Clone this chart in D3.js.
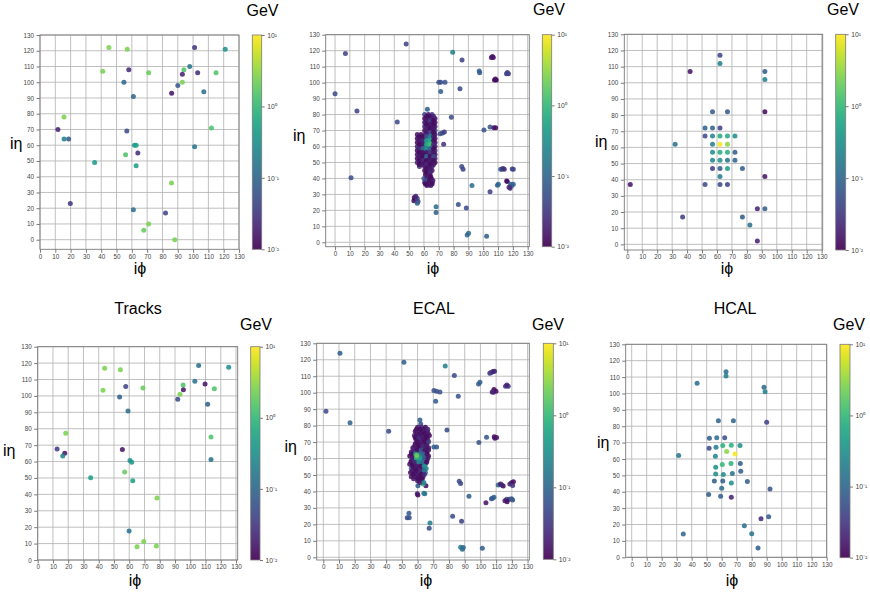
<!DOCTYPE html>
<html><head><meta charset="utf-8">
<script src="https://cdn.jsdelivr.net/npm/d3@7"></script>
<style>
body{margin:0;background:#fff;}
svg text{font-family:"Liberation Sans",Arial,sans-serif;}
</style></head>
<body><svg id="c" width="870" height="595"></svg>
<script>
// ---- DATA: [iphi, ieta, energy GeV] ----
const tracksTop = [
[45,122,2.5],[57,121,2.5],[101,122,0.03],[121,121,0.3],[41,107,2.5],[58,108,0.025],[71,106,2],[97.8,110,0.15],
[94,108,1.5],[93,105,0.02],[103,106,0.025],[115,106,1.5],[54.8,100,0.1],[93,100,2.5],[90,98,0.07],[86,93,0.015],
[61,91,0.1],[107,94,0.12],[15.7,78,2.5],[11.7,70,0.02],[56.7,69,0.05],[112,71,1.5],[15.7,64,0.2],[18.7,64,0.07],
[61.7,60,0.4],[62.8,60,0.5],[101,59,0.15],[55.9,54,1.5],[63.9,55,0.025],[35.7,49,0.4],[62.8,47,0.5],[85.9,36,2.5],
[19.8,23,0.03],[61,19,0.12],[82,17,0.04],[71,10,2.5],[67.8,6,2],[88,0,2.5]
];
const ecalTop = [
[48,124.2,0.04],[7,118.2,0.04],[0,93.1,0.05],[14.8,82.3,0.04],[42,75.4,0.05],[10.8,40.5,0.05],[79.4,119,0.2],[85.7,114.2,0.04],
[105.5,115.7,0.015],[106.8,115.7,0.013],[106.2,116.3,0.016],[97.3,107.2,0.08],[97.6,106.2,0.07],
[115.7,105.6,0.035],[117,105.6,0.03],[116.3,106.3,0.04],[107.6,101.7,0.012],[108.8,101.7,0.011],[108.2,102.2,0.013],
[70,100.2,0.06],[71.3,100.2,0.05],[74.2,100.2,0.06],[71.3,94.4,0.08],[84.3,96.2,0.05],[78.5,78.3,0.05],
[100.5,70.4,0.06],[104.6,72.2,0.07],[107.2,71.8,0.015],[108.4,71.8,0.013],[72.5,68.5,0.04],[73.8,69,0.035],[71,68,0.05],
[73.3,61.4,0.03],[85.5,47.4,0.05],[86.4,45.7,0.045],[92.4,35.5,0.12],
[111.8,45.7,0.08],[112.5,45.7,0.09],[114.2,45.7,0.03],[113.4,46.2,0.025],[120.3,45.7,0.05],[119.6,45.9,0.04],
[110.2,36.3,0.1],[109.6,35.8,0.09],[116.3,38,0.015],[115.8,38.4,0.013],[118.5,36.3,0.1],[120.3,36.3,0.09],[119.4,35.6,0.08],
[118.1,33.8,0.02],[117.4,34.4,0.025],[104.6,31.7,0.04],
[83.2,23.6,0.06],[88.6,21.5,0.05],[68.2,22.3,0.12],[68.2,18.6,0.08],[90.1,5.6,0.12],[89.2,4.6,0.1],[102.3,3.8,0.08],
[53.5,28,0.012],[54.5,27,0.015],[53.2,26,0.013],[55.5,27.5,0.05],[56,25.5,0.04],[55.5,24.5,0.08],[54.5,28.8,0.02],
[62.3,83.3,0.08],
[60.5,80,0.04],[63,80,0.015],[65.5,80,0.03],
[60.5,77.5,0.012],[63,77.5,0.02],[65.5,77.5,0.013],[67.5,77.5,0.015],
[60.5,75,0.015],[63,75,0.05],[65.5,75,0.012],[67.5,75,0.013],
[60.5,72.5,0.02],[63,72.5,0.012],[65.5,72.5,0.03],[67.5,72.5,0.015],
[60.5,70,0.013],[63,70,0.015],[65.5,70,0.012],[67.5,70,0.04],
[55.5,67.5,0.015],[58,67.5,0.013],[60.5,67.5,0.03],[63,67.5,0.02],[65.5,67.5,0.12],[67.5,67.5,0.015],
[55.5,65,0.012],[58,65,0.02],[60.5,65,0.015],[63,65,0.3],[65.5,65,0.25],[67.5,65,0.013],
[55.5,62.5,0.013],[58,62.5,0.015],[60.5,62.5,0.1],[63,62.5,1.5],[65.5,62.5,0.4],[67.5,62.5,0.012],
[55.5,60,0.02],[58,60,0.012],[60.5,60,0.2],[63,60,0.8],[65.5,60,0.06],[67.5,60,0.015],
[55.5,57.5,0.012],[58,57.5,0.013],[60.5,57.5,0.3],[63,57.5,0.04],[65.5,57.5,0.015],[67.5,57.5,0.02],
[55.5,55,0.015],[58,55,0.02],[60.5,55,0.012],[63,55,0.013],[65.5,55,0.08],[67.5,55,0.012],
[55.5,52.5,0.013],[58,52.5,0.015],[60.5,52.5,0.04],[63,52.5,0.012],[65.5,52.5,0.2],[67.5,52.5,0.015],
[55.5,50,0.02],[58,50,0.012],[60.5,50,0.013],[63,50,0.03],[65.5,50,0.012],[67.5,50,0.013],
[57,47.5,0.03],[60.5,47.5,0.015],[63,47.5,0.012],[65.5,47.5,0.02],
[60.5,45,0.012],[63,45,0.05],[65.5,45,0.015],[61,42.5,0.013],[64,42.5,0.015],
[60,40,0.06],[62.5,40,0.08],[65,40,0.013],[60.5,37.5,0.015],[63,37.5,0.012],[65.5,37.5,0.02],[62,35.5,0.013],[64.5,35.5,0.015],
[61.75,78.75,0.013],[64.25,78.75,0.012],[66.5,78.75,0.02],
[61.75,76.25,0.015],[64.25,76.25,0.03],[66.5,76.25,0.012],
[61.75,73.75,0.012],[64.25,73.75,0.015],[66.5,73.75,0.013],
[61.75,71.25,0.02],[64.25,71.25,0.012],[66.5,71.25,0.015],
[61.75,68.75,0.015],[64.25,68.75,0.04],[66.5,68.75,0.012],
[56.75,66.25,0.013],[59.25,66.25,0.012],[61.75,66.25,0.05],[64.25,66.25,0.2],[66.5,66.25,0.015],
[56.75,63.75,0.015],[59.25,63.75,0.02],[61.75,63.75,0.4],[64.25,63.75,0.6],[66.5,63.75,0.013],
[56.75,61.25,0.012],[59.25,61.25,0.015],[61.75,61.25,0.6],[64.25,61.25,1.2],[66.5,61.25,0.02],
[56.75,58.75,0.02],[59.25,58.75,0.1],[61.75,58.75,0.25],[64.25,58.75,0.08],[66.5,58.75,0.012],
[56.75,56.25,0.012],[59.25,56.25,0.013],[61.75,56.25,0.015],[64.25,56.25,0.03],[66.5,56.25,0.015],
[56.75,53.75,0.015],[59.25,53.75,0.012],[61.75,53.75,0.1],[64.25,53.75,0.012],[66.5,53.75,0.04],
[56.75,51.25,0.013],[59.25,51.25,0.02],[61.75,51.25,0.012],[64.25,51.25,0.015],[66.5,51.25,0.013],
[56.75,48.75,0.012],[59.25,48.75,0.015],[61.75,48.75,0.02],[64.25,48.75,0.012],[66.5,48.75,0.015],
[61.75,46.25,0.013],[64.25,46.25,0.015],[61.75,43.75,0.012],[64.25,43.75,0.02],[62,41.25,0.015],[64.5,41.25,0.012],
[61.25,38.75,0.04],[63.75,38.75,0.013],[66,38.75,0.015],[61,36.5,0.012],[63.5,36.5,0.015],[65.5,36.5,0.013]
];
const hcalTop = [
[62,117,0.04],[62,112,0.2],[42,107,0.015],[92,107,0.08],[92,102,0.2],[57,82,0.07],[67,82,0.07],[92,82,0.012],
[52,72,0.09],[57,72,0.09],[62,72,0.04],[52,67,0.05],[57,67,0.25],[62,67,0.7],[67,67,0.7],[72,67,0.3],
[32,62,0.15],[57,62,0.2],[62,62,9],[67,62,3],[57,57,0.3],[62,57,0.7],[67,57,0.8],[72,57,0.08],
[57,52,0.25],[62,52,0.35],[67,52,0.15],[72,52,0.09],[57,47,0.035],[62,47,0.07],[67,47,0.5],[77,47,0.08],
[62,42,0.2],[92,42,0.015],[2,37,0.015],[52,37,0.05],[62,37,0.05],[67,37,0.04],[37,17,0.035],[77,17,0.08],
[82,12,0.12],[87,22,0.02],[92,22,0.08],[87,2,0.02]
];
const tracks = [
[43.9,116.8,2.5],[54.2,116,2.5],[105.5,118.6,0.12],[125.2,117.4,0.3],[57.7,105.8,0.04],[69,104.8,2],[42.8,103.4,2.5],
[95.3,106.6,1.5],[103,108.9,0.15],[109.7,107.3,0.015],[115.8,104.4,1.5],[93.3,101,2.5],[95.5,103.8,0.015],[91.8,98,0.05],
[53.7,99.3,0.08],[59.2,90.8,0.12],[111.4,94.9,0.08],[18.4,77.2,2.5],[12.7,67.6,0.035],[17.7,65,0.015],[16.4,63.4,0.25],
[55.5,67.4,0.015],[113.6,75,1.5],[113.6,61.3,0.15],[60.5,60.7,0.3],[61.6,59.5,0.4],[57,53.6,2],[62.3,48.3,0.5],
[34.7,50.2,0.5],[78.2,37.8,2.5],[59.9,17.7,0.15],[65.1,8.1,2.5],[69.5,11.2,2.5],[77.8,8.5,2.5]
];
const ecal = [
[10.6,123.9,0.08],[1.7,88.7,0.05],[17,81.8,0.1],[41.6,76.5,0.05],[51.3,118.5,0.08],[77.6,116.2,0.2],[83.4,110.4,0.05],
[70.4,101.3,0.06],[72.1,100.8,0.05],[74.2,100.4,0.06],[71.5,94.8,0.08],[85.9,97.8,0.06],[98.8,105.3,0.07],[99.7,106.3,0.08],
[106,111.8,0.03],[107.5,112.6,0.025],[109,113,0.03],[106.7,112.2,0.04],[108.2,112.8,0.02],
[116,103.9,0.025],[117.7,103.9,0.03],[116.8,104.6,0.02],
[108.6,101.9,0.012],[109.9,100.9,0.013],[108.2,100.3,0.015],[107.5,100.4,0.02],
[78.7,77.4,0.05],[99,69.7,0.06],[103.9,72.9,0.07],[108.8,73.3,0.012],[109.2,72.3,0.013],[110.3,72.7,0.015],
[70.4,67,0.08],[72.1,67,0.07],[86.5,46.2,0.05],[87.4,44.8,0.045],[92.7,37.1,0.08],[103.5,33.2,0.015],
[107.7,35.8,0.08],[108.6,36.5,0.09],[107,35.5,0.07],
[111.3,43.9,0.1],[112.8,44.5,0.015],[114.5,43.3,0.013],[113.6,43.9,0.02],[119.8,45.3,0.015],[118.7,44.5,0.02],[121,45.9,0.013],[120.5,43.6,0.03],
[116.7,35.2,0.05],[118.3,35.2,0.03],[120.5,34.8,0.06],[117,33.8,0.013],[115.6,34.4,0.015],[119.8,35.6,0.07],
[82.3,24.9,0.05],[88,21.9,0.04],[67.9,20.9,0.2],[67.4,17.6,0.05],[54.5,26.7,0.07],[53.4,24.1,0.05],[54.7,24.1,0.06],
[87.4,6.1,0.2],[89.1,5.9,0.1],[88.5,4.9,0.12],[101.2,5.5,0.08],
[61.5,83.4,0.08],[62,81,0.06],
[60,79,0.015],[62.5,79,0.02],[65,79,0.012],
[58.5,76.5,0.012],[61,76.5,0.03],[63.5,76.5,0.015],[66,76.5,0.013],
[58,74,0.02],[60.5,74,0.012],[63,74,0.04],[65.5,74,0.015],[67.5,74,0.012],
[59,71.5,0.015],[61.5,71.5,0.06],[64,71.5,0.013],[66.5,71.5,0.02],
[58.5,69,0.012],[61,69,0.02],[63.5,69,0.015],[66,69,0.05],
[57,66.5,0.013],[59.5,66.5,0.03],[62,66.5,0.012],[64.5,66.5,0.08],[67,66.5,0.015],
[56,64,0.015],[58.5,64,0.02],[61,64,0.1],[63.5,64,0.013],[66,64,0.012],
[55,61.5,0.012],[57.5,61.5,0.03],[62,61.5,0.2],[64.5,61.5,0.5],[67,61.5,0.015],
[56,59,0.04],[58.5,59,0.1],[61,59,0.7],[63.5,59,0.3],[66,59,0.02],
[55,56.5,0.015],[57.5,56.5,0.012],[60,56.5,0.05],[62.5,56.5,0.08],[65,56.5,0.15],
[56,54,0.08],[58.5,54,0.012],[61,54,0.02],[63.5,54,0.013],[65.5,54,0.2],
[55.5,51.5,0.013],[58,51.5,0.015],[60.5,51.5,0.04],[63,51.5,0.012],[65,51.5,0.1],
[56,49,0.015],[58.5,49,0.012],[61,49,0.012],[63.5,49,0.03],
[60,46.5,0.015],[62.5,46.5,0.02],[60.2,43.5,0.08],[65.3,43.5,0.013],[63.5,44.5,1.0],
[60.2,37.9,0.013],[59.8,38.6,0.015],[64,38.9,0.2],[64.6,38.6,0.15],
[59.25,77.75,0.013],[61.75,77.75,0.012],[64.25,77.75,0.015],[66.5,77.75,0.02],
[59.25,75.25,0.015],[61.75,75.25,0.013],[64.25,75.25,0.012],[66.75,75.25,0.015],
[58.5,72.75,0.012],[60.75,72.75,0.02],[63.25,72.75,0.015],[65.75,72.75,0.012],
[59.75,70.25,0.013],[62.25,70.25,0.015],[64.75,70.25,0.012],[67,70.25,0.03],
[58.25,67.75,0.015],[60.75,67.75,0.012],[63.25,67.75,0.02],[65.75,67.75,0.015],
[57.25,65.25,0.02],[59.75,65.25,0.012],[62.25,65.25,0.05],[64.75,65.25,0.013],[67,65.25,0.015],
[56.25,62.75,0.012],[58.75,62.75,0.4],[61.25,62.75,0.15],[63.75,62.75,0.1],[66,62.75,0.013],
[56.75,60.25,0.015],[59.25,60.25,0.8],[61.75,60.25,0.5],[64.25,60.25,0.06],[66.5,60.25,0.015],
[55.75,57.75,0.013],[58.25,57.75,0.02],[60.75,57.75,0.2],[63.25,57.75,0.1],[65.75,57.75,0.012],
[56.75,55.25,0.012],[59.25,55.25,0.015],[61.75,55.25,0.013],[64.25,55.25,0.3],
[56.75,52.75,0.015],[59.25,52.75,0.012],[61.75,52.75,0.02],[64.25,52.75,0.15],
[57.25,50.25,0.012],[59.75,50.25,0.015],[62.25,50.25,0.012],[64.25,50.25,0.02],
[57.5,47.75,0.015],[60.5,47.75,0.013],[63,47.75,0.012],[61.5,45.5,0.015],[64,45.5,0.2],
[59.5,61.8,2.2]
];
const hcal = [
[62.9,113.3,0.12],[62.9,110.7,0.2],[43.6,106.2,0.12],[88.2,103.8,0.1],[88.9,101.1,0.2],[57.8,83.4,0.1],[67.8,83.4,0.1],
[90,82.4,0.04],[51.8,72.6,0.08],[56.7,73,0.12],[62,73,0.06],[51.6,66.5,0.05],[56.2,67.1,0.2],[60.7,68.2,0.8],
[66.4,68.4,0.8],[72.2,68.2,0.3],[31.3,62.1,0.15],[55.8,61.6,0.25],[63.3,64.5,3],[68.9,63.1,9],[56,54.9,0.35],
[60.4,56.6,1],[66.2,57.2,0.9],[72.4,57.2,0.08],[56,50.9,0.3],[61.1,50.5,0.3],[67.1,51.1,0.15],[72.7,52.5,0.08],
[55.1,46.6,0.08],[60.7,46.6,0.08],[66.4,45.4,0.3],[77.1,46.2,0.08],[60,42.1,0.12],[92.2,41.7,0.06],[51.3,38.3,0.08],
[59.3,37.2,0.08],[66.4,36.6,0.02],[91.3,24.8,0.08],[86.2,23.6,0.025],[75.1,19.3,0.12],[80,14.4,0.15],[34.4,14.2,0.1],
[84.2,5.7,0.08]
];
const axisTicks = [0,10,20,30,40,50,60,70,80,90,100,110,120,130];
const cbTicks = [0.01,0.1,1,10];
const cbTickLabels = ["10\u207B\u00B2","10\u207B\u00B9","10\u2070","10\u00B9"];
const titles = ["", "", "", "Tracks", "ECAL", "HCAL"];
const unitLabel = "GeV";

// ---- LAYOUT ----
const panels = [
 {data:tracksTop, p:[40,35,239,249.3], xd:[0,130], yd:[-6.1,130], cb:[252.3,35,261.7,249.3], gev:[262.5,16], yl:[10,149], xl:[140,274], t:[0,0]},
 {data:ecalTop, p:[325.7,34.7,529.3,246.7], xd:[-6.3,131.1], yd:[-2.75,130], cb:[542.3,34.7,551.7,246.7], gev:[549,15], yl:[293,141], xl:[433,274], t:[0,0]},
 {data:hcalTop, p:[624.3,34.3,822.7,250], xd:[-2,130.7], yd:[-3.5,130], cb:[835.7,34.3,845.7,250], gev:[843,15], yl:[595,147], xl:[727,274], t:[0,0]},
 {data:tracks, p:[37.7,346.7,237.7,560], xd:[0,131.1], yd:[0,130], cb:[250.7,346.7,260,560], gev:[256,330], yl:[3,456], xl:[135,586], t:[138,314]},
 {data:ecal, p:[316.7,343.3,529.3,560], xd:[-4.2,131.1], yd:[-1.64,130], cb:[543.3,343.3,553.3,559.3], gev:[548,330], yl:[284.5,452], xl:[426,586], t:[434,314]},
 {data:hcal, p:[625.7,344.3,826.7,557.3], xd:[-4,130], yd:[0,130], cb:[840,344.3,850,557.7], gev:[849,330], yl:[597,448], xl:[732,586], t:[735,314]}
];

const svg = d3.select("#c");
const norm = d3.scaleLog().domain([0.01,10]).range([0,1]).clamp(true);
const col = e => d3.interpolateViridis(norm(e));

const defs = svg.append("defs");
const grad = defs.append("linearGradient").attr("id","vir").attr("x1",0).attr("y1",1).attr("x2",0).attr("y2",0);
d3.range(0,1.0001,0.05).forEach(t=>grad.append("stop").attr("offset",t).attr("stop-color",d3.interpolateViridis(t)));

panels.forEach((P,i)=>{
  const [x0,y0,x1,y1] = P.p;
  const x = d3.scaleLinear().domain(P.xd).range([x0,x1]);
  const y = d3.scaleLinear().domain(P.yd).range([y1,y0]);
  const g = svg.append("g");
  g.append("g").selectAll("line").data(axisTicks).join("line")
    .attr("x1",d=>x(d)).attr("x2",d=>x(d)).attr("y1",y0).attr("y2",y1)
    .attr("stroke","#b0b0b0").attr("stroke-width",0.8);
  g.append("g").selectAll("line").data(axisTicks).join("line")
    .attr("y1",d=>y(d)).attr("y2",d=>y(d)).attr("x1",x0).attr("x2",x1)
    .attr("stroke","#b0b0b0").attr("stroke-width",0.8);
  g.append("g").selectAll("circle").data(P.data).join("circle")
    .attr("cx",d=>x(d[0])).attr("cy",d=>y(d[1])).attr("r",2.5)
    .attr("fill",d=>col(d[2])).attr("fill-opacity",0.88);
  g.append("rect").attr("x",x0).attr("y",y0).attr("width",x1-x0).attr("height",y1-y0)
    .attr("fill","none").attr("stroke","#7a7a7a").attr("stroke-width",0.9);
  const ax = g.append("g").attr("transform",`translate(0,${y1})`)
    .call(d3.axisBottom(x).tickValues(axisTicks).tickSize(3.5).tickPadding(1.5));
  const ay = g.append("g").attr("transform",`translate(${x0},0)`)
    .call(d3.axisLeft(y).tickValues(axisTicks).tickSize(3.5).tickPadding(2.5));
  [ax,ay].forEach(a=>{
    a.select(".domain").remove();
    a.selectAll("line").attr("stroke","#7a7a7a");
    a.selectAll("text").attr("fill","#444").style("font-size","6.3px").style("font-family","'Liberation Sans',Arial,sans-serif");
  });
  const [c0,cy0,c1,cy1] = P.cb;
  g.append("rect").attr("x",c0).attr("y",cy0).attr("width",c1-c0).attr("height",cy1-cy0)
    .attr("fill","url(#vir)").attr("fill-opacity",0.92);
  g.append("rect").attr("x",c0).attr("y",cy0).attr("width",c1-c0).attr("height",cy1-cy0)
    .attr("fill","none").attr("stroke","#7a7a7a").attr("stroke-width",0.8);
  const cs = d3.scaleLog().domain([0.01,10]).range([cy1,cy0]);
  const ac = g.append("g").attr("transform",`translate(${c1},0)`)
    .call(d3.axisRight(cs).tickValues(cbTicks).tickSize(3).tickPadding(2.5).tickFormat((d,k)=>cbTickLabels[k]));
  ac.select(".domain").remove();
  ac.selectAll("line").attr("stroke","#7a7a7a");
  ac.selectAll("text").attr("fill","#444").style("font-size","6.8px");
  svg.append("text").attr("x",P.gev[0]).attr("y",P.gev[1]).attr("text-anchor","middle")
    .style("font-size","16px").attr("fill","#000").text(unitLabel);
  svg.append("text").attr("x",P.yl[0]).attr("y",P.yl[1]).attr("text-anchor","start")
    .style("font-size","16px").attr("fill","#000").text("i\u03B7");
  svg.append("text").attr("x",P.xl[0]).attr("y",P.xl[1]).attr("text-anchor","middle")
    .style("font-size","16px").attr("fill","#000").text("i\u03D5");
  if (titles[i]) svg.append("text").attr("x",P.t[0]).attr("y",P.t[1]).attr("text-anchor","middle")
    .style("font-size","16px").attr("fill","#000").text(titles[i]);
});
</script></body></html>
